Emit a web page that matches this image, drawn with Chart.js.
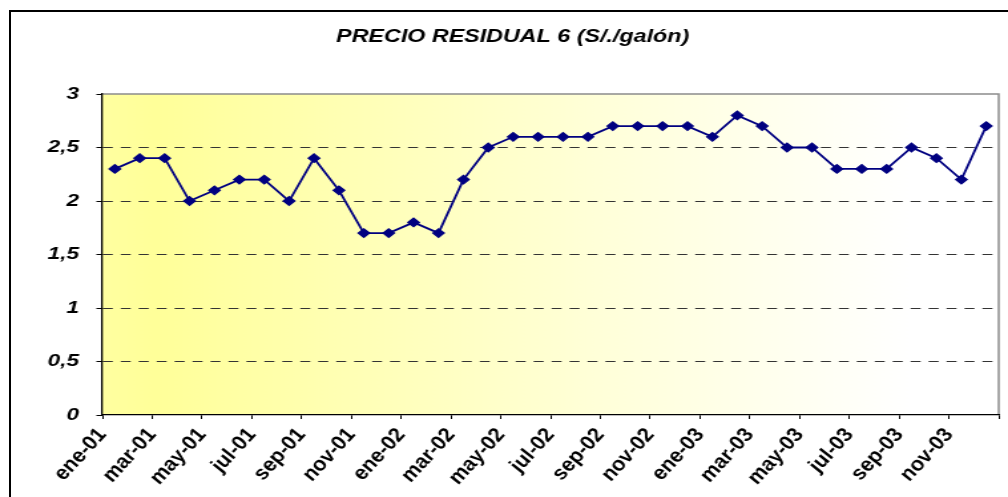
<!DOCTYPE html>
<html>
<head>
<meta charset="utf-8">
<script src="https://cdn.jsdelivr.net/npm/chart.js@4.4.0/dist/chart.umd.min.js"></script>
<style>
  html, body { margin: 0; padding: 0; background: #fff; overflow: hidden; }
  #frame { position: absolute; left: 9px; top: 10px; width: 1100px; height: 600px; border: 2px solid #000; }
  #chart { position: absolute; left: 0; top: 0; transform: scaleX(1.3298); transform-origin: 0 0; }
</style>
</head>
<body>
<div id="frame"></div>
<canvas id="chart" width="758" height="497"></canvas>
<script>
const titulo = 'PRECIO RESIDUAL 6 (S/./galón)';

const meses = [
  'ene-01', 'feb-01', 'mar-01', 'abr-01', 'may-01', 'jun-01',
  'jul-01', 'ago-01', 'sep-01', 'oct-01', 'nov-01', 'dic-01',
  'ene-02', 'feb-02', 'mar-02', 'abr-02', 'may-02', 'jun-02',
  'jul-02', 'ago-02', 'sep-02', 'oct-02', 'nov-02', 'dic-02',
  'ene-03', 'feb-03', 'mar-03', 'abr-03', 'may-03', 'jun-03',
  'jul-03', 'ago-03', 'sep-03', 'oct-03', 'nov-03', 'dic-03'
];

const precios = [
  2.3, 2.4, 2.4, 2.0, 2.1, 2.2, 2.2, 2.0, 2.4, 2.1, 1.7, 1.7,
  1.8, 1.7, 2.2, 2.5, 2.6, 2.6, 2.6, 2.6, 2.7, 2.7, 2.7, 2.7,
  2.6, 2.8, 2.7, 2.5, 2.5, 2.3, 2.3, 2.3, 2.5, 2.4, 2.2, 2.7
];

const yMin = 0;
const yMax = 3;
const yPaso = 0.5;

const familia = '"Liberation Sans", Arial, sans-serif';
const fuenteTitulo = { family: familia, size: 17.5, weight: 'bold', style: 'italic' };
const fuenteY = { family: familia, size: 17, weight: 'bold', style: 'italic' };
const fuenteX = { family: familia, size: 18, weight: 'bold', style: 'italic' };

// gradient fill of the plot area plus the grey top/right frame
const fondoPlot = {
  id: 'fondoPlot',
  beforeDraw(chart) {
    const { ctx, chartArea: a } = chart;
    const g = ctx.createLinearGradient(a.left, 0, a.right, 0);
    g.addColorStop(0, '#ffffa0');
    g.addColorStop(0.06, '#ffff99');
    g.addColorStop(0.55, '#ffffd8');
    g.addColorStop(0.9, '#ffffff');
    g.addColorStop(1, '#ffffff');
    ctx.save();
    ctx.fillStyle = g;
    ctx.fillRect(a.left, a.top, a.right - a.left, a.bottom - a.top);
    ctx.strokeStyle = '#8c8c8c';
    ctx.lineWidth = 1.5;
    ctx.beginPath();
    ctx.moveTo(a.left, a.top);
    ctx.lineTo(a.right, a.top);
    ctx.lineTo(a.right, a.bottom);
    ctx.stroke();
    ctx.restore();
  }
};

new Chart(document.getElementById('chart'), {
  type: 'line',
  data: {
    labels: meses,
    datasets: [{
      label: titulo,
      data: precios,
      borderColor: '#000080',
      borderWidth: 1.8,
      pointStyle: 'rectRot',
      pointRadius: 4.3,
      pointBorderWidth: 1.2,
      pointBackgroundColor: '#000080',
      pointBorderColor: '#000080',
      tension: 0,
      fill: false
    }]
  },
  options: {
    responsive: false,
    animation: false,
    layout: { padding: { left: 20, right: 7, top: 0, bottom: 0 } },
    plugins: {
      legend: { display: false },
      tooltip: { enabled: false },
      title: {
        display: true,
        text: titulo,
        color: '#000',
        font: fuenteTitulo,
        padding: { top: 27, bottom: 46 }
      }
    },
    scales: {
      x: {
        offset: true,
        afterFit: (s) => { s.height = 82; s.paddingLeft = 0; s.paddingRight = 0; },
        grid: {
          offset: true,
          drawOnChartArea: false,
          drawTicks: true,
          tickLength: 4,
          color: '#000',
          lineWidth: (c) => (c.index === undefined || c.index % 2 === 0) ? 1 : 0
        },
        border: { display: true, color: '#000', width: 1.3 },
        ticks: {
          autoSkip: false,
          minRotation: 55,
          maxRotation: 55,
          labelOffset: -9.36,
          padding: 6,
          color: '#000',
          font: fuenteX,
          callback: (v, i) => i % 2 === 0 ? meses[i] : ''
        }
      },
      y: {
        min: yMin,
        max: yMax,
        afterFit: (s) => { s.width = 57; },
        grid: {
          color: (c) => (c.tick && (c.tick.value === yMin || c.tick.value === yMax)) ? 'rgba(0,0,0,0)' : '#333',
          tickColor: '#000',
          tickLength: 4.5,
          lineWidth: 1
        },
        border: { display: true, color: '#000', width: 1.3, dash: [7.5, 6] },
        ticks: {
          stepSize: yPaso,
          padding: 13,
          color: '#000',
          font: fuenteY,
          callback: (v) => String(v).replace('.', ',')
        }
      }
    }
  },
  plugins: [fondoPlot]
});
</script>
</body>
</html>
